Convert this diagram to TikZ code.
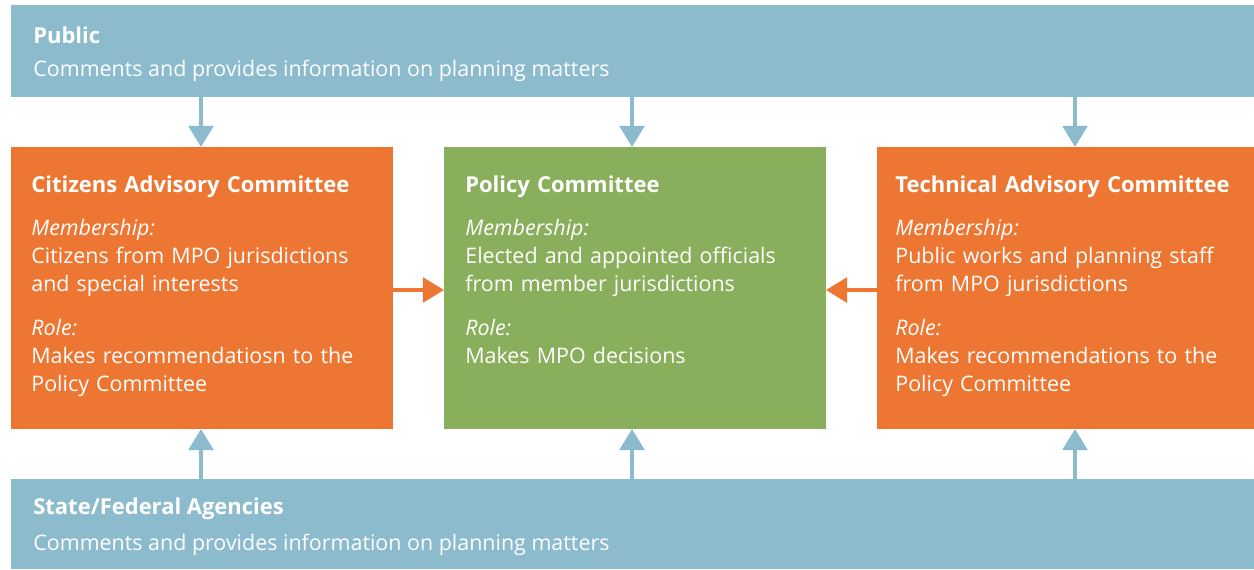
\documentclass[tikz,border=0pt]{standalone}
\usepackage{fontspec}
\setmainfont{Open Sans}
\usetikzlibrary{arrows.meta,positioning}
\definecolor{barblue}{RGB}{139,187,204}
\definecolor{boxorange}{RGB}{237,118,51}
\definecolor{boxgreen}{RGB}{137,175,92}

\begin{document}
\begin{tikzpicture}[x=0.02cm,y=-0.02cm,>={Triangle[width=14pt,length=12pt]},
    bar/.style={fill=barblue, draw=none, inner sep=0pt, outer sep=0pt, anchor=north west},
    card/.style={draw=none, inner sep=0pt, outer sep=0pt, anchor=north west, minimum height=5.64cm},
    headline/.style={anchor=west, inner sep=0pt, text=white, font=\fontsize{12.5}{15}\selectfont\bfseries},
    plain/.style={anchor=west, inner sep=0pt, text=white, font=\fontsize{12.2}{15}\selectfont},
    cardtext/.style={anchor=north west, inner sep=0pt, text=white, align=left, text width=7.2cm,
      font=\fontsize{12.2}{15.9}\selectfont},
    bluearrow/.style={->, draw=barblue, line width=2.2pt},
    orangearrow/.style={->, draw=boxorange, line width=2.2pt}]
  \useasboundingbox (0,0) rectangle (1254,569);
  % top and bottom bars
  \node[bar, minimum width=24.86cm, minimum height=1.84cm] (public) at (11,5) {};
  \node[bar, minimum width=24.86cm, minimum height=1.8cm] (agencies) at (11,479) {};
  \node[headline] (publichead) at (33,35) {Public};
  \node[plain] (publicnote) at (33,71) {Comments and provides information on planning matters};
  \node[headline] (agencieshead) at (33,509) {State/Federal Agencies};
  \node[plain] (agenciesnote) at (33,545) {Comments and provides information on planning matters};
  % committees
  \node[card, fill=boxorange, minimum width=7.64cm] (citizens) at (11,147) {};
  \node[card, fill=boxgreen, minimum width=7.64cm] (policy) at (444,147) {};
  \node[card, fill=boxorange, minimum width=7.54cm] (technical) at (877,147) {};
  \node[cardtext] (citizenstext) at (31,175) {{\fontsize{12.5}{15.9}\selectfont\bfseries Citizens Advisory Committee}\\[0.32cm]
    \textit{Membership:}\\ Citizens from MPO jurisdictions\\ and special interests\\[0.32cm]
    \textit{Role:}\\ Makes recommendatiosn to the\\ Policy Committee};
  \node[cardtext] (policytext) at (465,175) {{\fontsize{12.5}{15.9}\selectfont\bfseries Policy Committee}\\[0.32cm]
    \textit{Membership:}\\ Elected and appointed officials\\ from member jurisdictions\\[0.32cm]
    \textit{Role:}\\ Makes MPO decisions};
  \node[cardtext] (technicaltext) at (895,175) {{\fontsize{12.5}{15.9}\selectfont\bfseries Technical Advisory Committee}\\[0.32cm]
    \textit{Membership:}\\ Public works and planning staff\\ from MPO jurisdictions\\[0.32cm]
    \textit{Role:}\\ Makes recommendations to the\\ Policy Committee};
  % connectors
  \foreach \c/\x in {citizens/201, policy/632, technical/1075} {
    \draw[bluearrow] (public.south -| \x,0) -- (\c.north -| \x,0);
    \draw[bluearrow] (agencies.north -| \x,0) -- (\c.south -| \x,0);
  }
  \draw[orangearrow] (citizens.east |- 0,290) -- (policy.west |- 0,290);
  \draw[orangearrow] (technical.west |- 0,290) -- (policy.east |- 0,290);
\end{tikzpicture}
\end{document}
